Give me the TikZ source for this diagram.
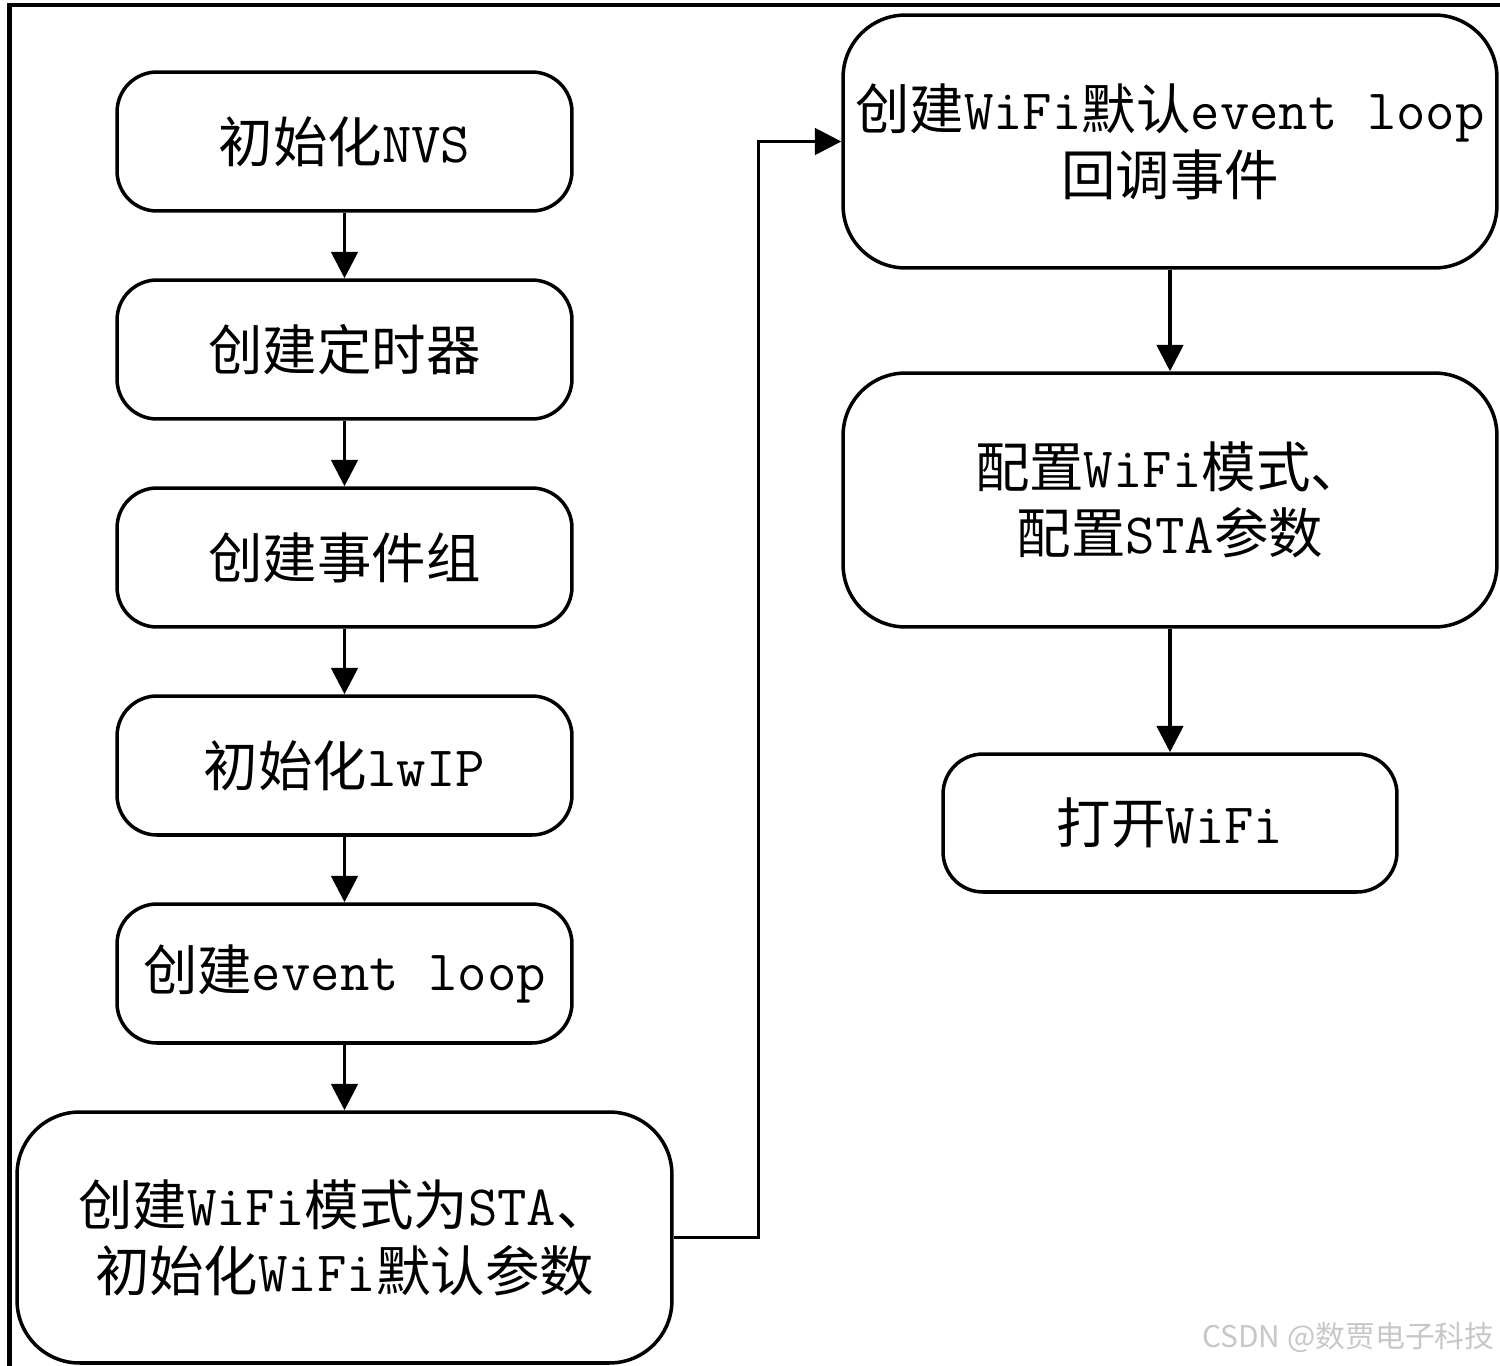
\documentclass[tikz,border=0pt]{standalone}
\usepackage{fontspec}
\setmainfont{Noto Sans CJK SC}
\usetikzlibrary{arrows.meta}
\newcommand{\mono}[1]{{\fontsize{32.5}{37.5}\selectfont\ttfamily #1}}
\begin{document}
\begin{tikzpicture}[x=0.02cm,y=-0.02cm,
  box/.style={draw,line width=2pt,rounded corners=0.8cm,align=center,inner sep=0pt,
    font=\fontsize{31}{37.5}\selectfont},
  bigbox/.style={box,rounded corners=1.25cm},
  arr/.style={line width=2pt,-{Triangle[length=15pt,width=15pt]}}]
\useasboundingbox (0,0) rectangle (1500,1365);
\draw[line width=2.3pt] (9.5,1370) -- (9.5,5) -- (1505,5);
% left column
\node[box,minimum width=9.1cm,minimum height=2.78cm] (b1) at (344.5,141.5) {初始化\mono{NVS}};
\node[box,minimum width=9.1cm,minimum height=2.78cm] (b2) at (344.5,349.5) {创建定时器};
\node[box,minimum width=9.1cm,minimum height=2.78cm] (b3) at (344.5,557.5) {创建事件组};
\node[box,minimum width=9.1cm,minimum height=2.78cm] (b4) at (344.5,765.5) {初始化\mono{lwIP}};
\node[box,minimum width=9.1cm,minimum height=2.78cm] (b5) at (344.5,973.5) {创建\mono{event loop}};
\node[bigbox,minimum width=13.1cm,minimum height=5.02cm] (b6) at (344.5,1237.5)
  {创建\mono{WiFi}模式为\mono{STA}、\\初始化\mono{WiFi}默认参数};
% right column
\node[bigbox,minimum width=13.08cm,minimum height=5.06cm] (r1) at (1170,141.5)
  {创建\mono{WiFi}默认\mono{event loop}\\回调事件};
\node[bigbox,minimum width=13.08cm,minimum height=5.08cm] (r2) at (1170,500)
  {配置\mono{WiFi}模式、\\配置\mono{STA}参数};
\node[box,minimum width=9.08cm,minimum height=2.76cm] (r3) at (1170,823) {打开\mono{WiFi}};
% connectors
\draw[arr] (b1) -- (b2);
\draw[arr] (b2) -- (b3);
\draw[arr] (b3) -- (b4);
\draw[arr] (b4) -- (b5);
\draw[arr] (b5) -- (b6);
\draw[arr] (b6.east) -- ++(85,0) |- (r1.west);
\draw[arr] (r1) -- (r2);
\draw[arr] (r2) -- (r3);
% watermark
\node[anchor=east,text=black!22,font=\fontsize{17}{20}\selectfont,inner sep=0pt] (wm) at (1495,1338) {CSDN @数贾电子科技};
\end{tikzpicture}
\end{document}
